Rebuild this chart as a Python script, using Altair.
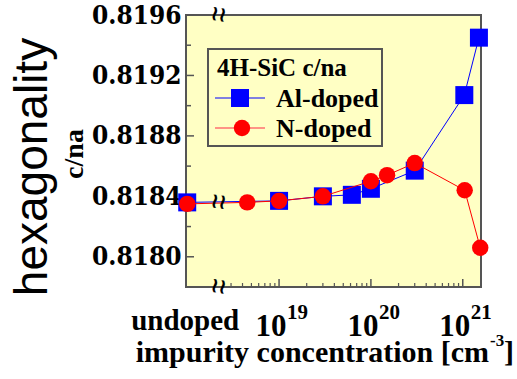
import altair as alt
import pandas as pd

# ---------------- data ----------------
# "undoped" samples are drawn at the left end of the axis (1e18)
al_conc = [1e18, 1e19, 3e19, 6.2e19, 1e20, 3e20, 1.04e21, 1.5e21]
al_cna = [0.81836, 0.81837, 0.81840, 0.81841, 0.81845, 0.81857, 0.81907, 0.81945]
n_conc = [1e18, 4.5e18, 1e19, 3e19, 1e20, 1.5e20, 3e20, 1.05e21, 1.55e21]
n_cna = [0.81835, 0.81836, 0.81837, 0.81840, 0.81850, 0.81854, 0.81862, 0.81844, 0.81806]

y_major = [0.8180, 0.8184, 0.8188, 0.8192, 0.8196]
y_minor = [0.8182, 0.8186, 0.8190, 0.8194]
x_major = [1e19, 1e20, 1e21]
x_major_base = ["10", "10", "10"]
x_major_exp = ["19", "20", "21"]
x_minor = [3e18, 4e18, 5e18, 6e18, 7e18, 8e18, 9e18,
           2e19, 3e19, 4e19, 5e19, 6e19, 7e19, 8e19, 9e19,
           2e20, 3e20, 4e20, 5e20, 6e20, 7e20, 8e20, 9e20]
undoped_pos = [1e18]
undoped_label = ["undoped"]
break_pos = [2.2e18]
break_level = [0.81836]

# ---------------- styling ----------------
W, H = 295, 272
BG = "#ffffc4"
FRAME = "#555555"
BLUE = "#0000ff"
RED = "#ff0000"
SERIF = "Liberation Serif"
SANS = "Liberation Sans"
YFONT = "DejaVu Serif Condensed, Liberation Serif"

xs = alt.Scale(type="log", domain=[9.7e17, 1.58e21], nice=False)
ys = alt.Scale(domain=[0.8178, 0.8196], nice=False, zero=False)
yaxis = alt.Axis(values=y_major, format=".4f", ticks=False, domain=False, grid=False,
                 labelFont=YFONT, labelFontWeight="bold", labelFontSize=26,
                 labelColor="black", labelPadding=5, title=None)

al_df = pd.DataFrame({"conc": al_conc, "cna": al_cna})
n_df = pd.DataFrame({"conc": n_conc, "cna": n_cna})

X = alt.X("conc:Q", scale=xs, axis=None)
Y = alt.Y("cna:Q", scale=ys, axis=yaxis)

one = pd.DataFrame({"k": [0]})

layers = []

# inward ticks
layers.append(alt.Chart(pd.DataFrame({"cna": y_major})).mark_rule(color=FRAME, strokeWidth=1.5)
              .encode(y=Y, x=alt.value(0), x2=alt.value(8)))
layers.append(alt.Chart(pd.DataFrame({"cna": y_minor})).mark_rule(color=FRAME, strokeWidth=1.5)
              .encode(y=Y, x=alt.value(0), x2=alt.value(5)))
layers.append(alt.Chart(pd.DataFrame({"conc": x_major})).mark_rule(color=FRAME, strokeWidth=1.5)
              .encode(x=X, y=alt.value(H), y2=alt.value(H - 8)))
layers.append(alt.Chart(pd.DataFrame({"conc": x_minor})).mark_rule(color=FRAME, strokeWidth=1.2)
              .encode(x=X, y=alt.value(H), y2=alt.value(H - 4)))

# series
layers.append(alt.Chart(al_df).mark_line(color=BLUE, strokeWidth=1).encode(x=X, y=Y))
layers.append(alt.Chart(al_df).mark_square(color=BLUE, size=324, opacity=1).encode(x=X, y=Y))
layers.append(alt.Chart(n_df).mark_line(color=RED, strokeWidth=1).encode(x=X, y=Y))
layers.append(alt.Chart(n_df).mark_circle(color=RED, size=270, opacity=1).encode(x=X, y=Y))

# axis break marks
brk = dict(text="\u2240\u2240", font="DejaVu Sans", fontWeight="bold", fontSize=21, angle=8,
           align="center", baseline="middle", color="black")
bdf = pd.DataFrame({"conc": break_pos, "cna": break_level})
layers.append(alt.Chart(bdf).mark_text(**brk).encode(x=X, y=alt.value(0)))
layers.append(alt.Chart(bdf).mark_text(**brk).encode(x=X, y=Y))
layers.append(alt.Chart(bdf).mark_text(**brk).encode(x=X, y=alt.value(H)))

# x tick labels
layers.append(alt.Chart(pd.DataFrame({"conc": x_major, "t": x_major_base}))
              .mark_text(font=SERIF, fontWeight="bold", fontSize=31, align="center",
                         baseline="alphabetic", dx=-8, color="black")
              .encode(x=X, y=alt.value(H + 49), text="t:N"))
layers.append(alt.Chart(pd.DataFrame({"conc": x_major, "t": x_major_exp}))
              .mark_text(font=SERIF, fontWeight="bold", fontSize=21, align="left",
                         baseline="alphabetic", dx=8, color="black")
              .encode(x=X, y=alt.value(H + 32), text="t:N"))
layers.append(alt.Chart(pd.DataFrame({"conc": undoped_pos, "t": undoped_label}))
              .mark_text(font=SERIF, fontWeight="bold", fontSize=29, align="center",
                         baseline="alphabetic", dx=-2, color="black")
              .encode(x=X, y=alt.value(H + 43), text="t:N"))

# x title
layers.append(alt.Chart(one).mark_text(text="impurity concentration [cm", font=SERIF, fontWeight="bold",
                                       fontSize=30, align="right", baseline="alphabetic", color="black")
              .encode(x=alt.value(303), y=alt.value(H + 75)))
layers.append(alt.Chart(one).mark_text(text="-3", font=SERIF, fontWeight="bold",
                                       fontSize=17, align="left", baseline="alphabetic", color="black")
              .encode(x=alt.value(304), y=alt.value(H + 59)))
layers.append(alt.Chart(one).mark_text(text="]", font=SERIF, fontWeight="bold",
                                       fontSize=30, align="left", baseline="alphabetic", color="black")
              .encode(x=alt.value(318), y=alt.value(H + 75)))

# y titles
layers.append(alt.Chart(one).mark_text(text="hexagonality", font=SANS, fontSize=46, angle=270,
                                       align="center", baseline="alphabetic", color="black")
              .encode(x=alt.value(-139), y=alt.value(152)))
layers.append(alt.Chart(one).mark_text(text="c/na", font=SERIF, fontWeight="bold", fontSize=28, angle=270,
                                       align="center", baseline="alphabetic", color="black")
              .encode(x=alt.value(-103), y=alt.value(139)))

# legend
layers.append(alt.Chart(one).mark_rect(fill=BG, stroke=FRAME, strokeWidth=2)
              .encode(x=alt.value(22), x2=alt.value(196), y=alt.value(34), y2=alt.value(131)))
layers.append(alt.Chart(one).mark_text(text="4H-SiC c/na", font=SERIF, fontWeight="bold", fontSize=25,
                                       align="left", baseline="alphabetic", color="black")
              .encode(x=alt.value(31), y=alt.value(61)))
layers.append(alt.Chart(one).mark_rule(color=BLUE, strokeWidth=1)
              .encode(x=alt.value(29), x2=alt.value(79), y=alt.value(83)))
layers.append(alt.Chart(one).mark_square(color=BLUE, size=324, opacity=1)
              .encode(x=alt.value(54), y=alt.value(83)))
layers.append(alt.Chart(one).mark_text(text="Al-doped", font=SERIF, fontWeight="bold", fontSize=26,
                                       align="left", baseline="alphabetic", color="black")
              .encode(x=alt.value(90), y=alt.value(92)))
layers.append(alt.Chart(one).mark_rule(color="#ff7070", strokeWidth=1.5)
              .encode(x=alt.value(29), x2=alt.value(79), y=alt.value(113)))
layers.append(alt.Chart(one).mark_circle(color=RED, size=270, opacity=1)
              .encode(x=alt.value(56), y=alt.value(113)))
layers.append(alt.Chart(one).mark_text(text="N-doped", font=SERIF, fontWeight="bold", fontSize=26,
                                       align="left", baseline="alphabetic", color="black")
              .encode(x=alt.value(90), y=alt.value(122)))

chart = alt.layer(*layers).properties(
    width=W, height=H,
    autosize=alt.AutoSizeParams(type="none"),
    padding={"left": 186, "top": 15, "right": 36, "bottom": 92},
    background="white",
).configure_view(fill=BG, stroke=FRAME, strokeWidth=2)

chart.save("out.html", embed_options={"renderer": "svg", "actions": False})
